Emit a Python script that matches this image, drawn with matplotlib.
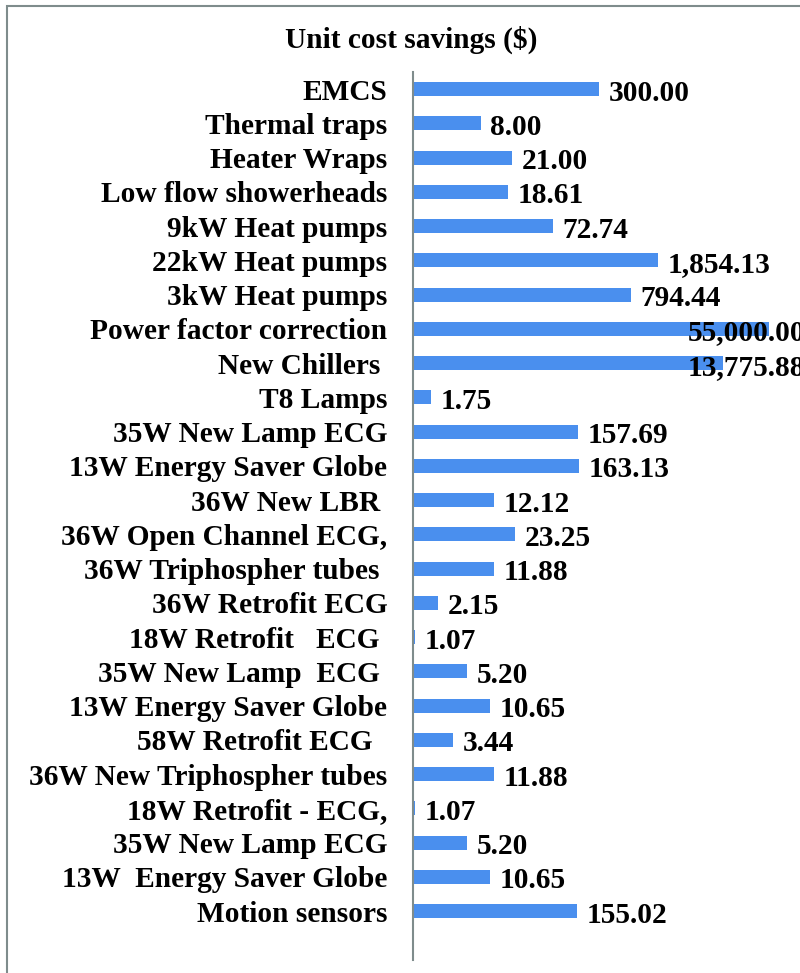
import numpy as np
import matplotlib.pyplot as plt
from matplotlib.patches import Rectangle

# measures, top to bottom as in the chart
measures = [
    "EMCS", "Thermal traps", "Heater Wraps", "Low flow showerheads",
    "9kW Heat pumps", "22kW Heat pumps", "3kW Heat pumps",
    "Power factor correction", "New Chillers ", "T8 Lamps",
    "35W New Lamp ECG", "13W Energy Saver Globe", "36W New LBR ",
    "36W Open Channel ECG,", "36W Triphospher tubes ", "36W Retrofit ECG",
    "18W Retrofit   ECG ", "35W New Lamp  ECG ", "13W Energy Saver Globe",
    "58W Retrofit ECG  ", "36W New Triphospher tubes", "18W Retrofit - ECG,",
    "35W New Lamp ECG", "13W  Energy Saver Globe", "Motion sensors",
]
savings = [
    300.00, 8.00, 21.00, 18.61, 72.74, 1854.13, 794.44, 55000.00, 13775.88,
    1.75, 157.69, 163.13, 12.12, 23.25, 11.88, 2.15, 1.07, 5.20, 10.65,
    3.44, 11.88, 1.07, 5.20, 10.65, 155.02,
]

W, H = 800, 973
bar_color = "#4a8fee"
font = dict(family="Liberation Serif", weight="bold")
fs = 21.2

fig = plt.figure(figsize=(W / 100, H / 100), dpi=100)

# outer chart frame (cut off at right and bottom in the original)
fig.add_artist(Rectangle((6.5 / W, -0.1), 1.2, 1.1 - 5.5 / H,
                         transform=fig.transFigure, fill=False,
                         edgecolor="#7f8c8c", linewidth=1.5))

ax_left, ax_top, ax_bottom = 413, 72, 960
ax = fig.add_axes([ax_left / W, 1 - ax_bottom / H,
                   (W - ax_left) / W, (ax_bottom - ax_top) / H])

px_per_decade = 75
xmax = 10 ** ((W - ax_left) / px_per_decade)

y = np.arange(len(measures))
vals = np.array(savings)
ax.barh(y, vals - 1, height=0.41, color=bar_color, left=1)
ax.set_xscale("log")
ax.set_xlim(1, xmax)
ax.set_ylim(-0.5 + (ax_bottom - ax_top) / 34.25, -0.5)

ax.set_yticks(y)
ax.set_yticklabels(measures, fontsize=fs, **font)
ax.tick_params(axis="y", length=0, pad=18.5)
ax.set_xticks([])
ax.minorticks_off()
for s in ["top", "right", "bottom"]:
    ax.spines[s].set_visible(False)
ax.spines["left"].set_color("#7f8c8c")
ax.spines["left"].set_linewidth(1.5)

for yi, v in zip(y, savings):
    txt = f"{v:,.2f}"
    if np.log10(v) / np.log10(xmax) > 0.7:
        # too long to fit: label pushed back over the bar, cut by the edge
        ax.text((688 - ax_left) / (W - ax_left), yi + 0.12, txt,
                transform=ax.get_yaxis_transform(), ha="left", va="center",
                fontsize=fs, **font)
    else:
        ax.annotate(txt, (v, yi + 0.12), xytext=(7, 0),
                    textcoords="offset points", ha="left", va="center",
                    fontsize=fs, **font)

fig.text(411 / W, 1 - 40 / H, "Unit cost savings ($)", ha="center",
         va="center", fontsize=fs, **font)

fig.savefig("out.png", dpi=100)
